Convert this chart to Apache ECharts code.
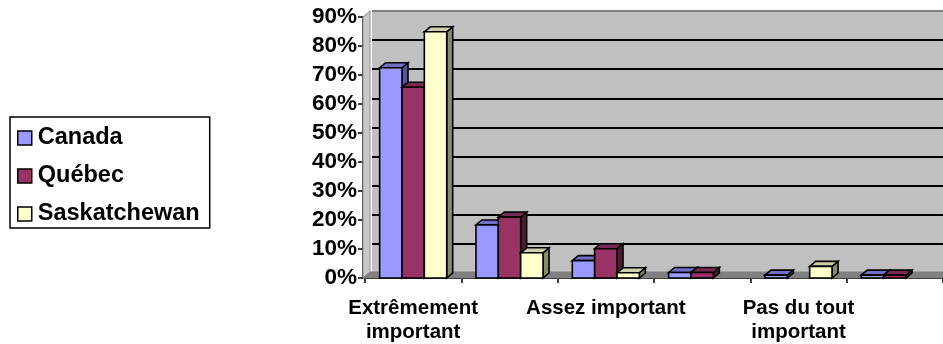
<!DOCTYPE html>
<html>
<head>
<meta charset="utf-8">
<script src="https://cdn.jsdelivr.net/npm/echarts@6/dist/echarts.min.js"></script>
<style>
  html, body { margin: 0; padding: 0; background: #fff; }
  #chart { width: 943px; height: 344px; }
</style>
</head>
<body>
<div id="chart"></div>
<script>
// Response categories (only every other label fits under the axis)
const categories = [
  'Extrêmement\nimportant',
  'Très important',
  'Assez important',
  'Peu important',
  'Pas du tout\nimportant',
  'NSP/NR'
];

// Share of respondents, in percent
const canada       = [72.5, 18.3, 6.0, 1.9, 1.0, 1.0];
const quebec       = [65.8, 21.0, 10.1, 1.9, 0, 1.0];
const saskatchewan = [84.9, 8.7, 1.8, 0, 4.0, 0];

const yTicks = { min: 0, max: 90, step: 10 };

const FONT = '"Liberation Sans", Arial, sans-serif';

// Face colours for each series: front, top, side
const palette = [
  { name: 'Canada',       front: '#9999ff', top: '#6f6fc4', side: '#55559a' },
  { name: 'Québec',       front: '#993366', top: '#782a52', side: '#4e1a34' },
  { name: 'Saskatchewan', front: '#ffffcc', top: '#cfcfae', side: '#8a8a6e' }
];

// Pseudo-3D depth of the bars and of the chart walls, in pixels
const BAR_DX = 6, BAR_DY = -5;
const WALL_DX = 7, WALL_DY = -6;

const chart = echarts.init(document.getElementById('chart'));

// Builds a renderer that draws one bar as front face + top + right side
function barRenderer(slot, colors) {
  return function (params, api) {
    const cat = api.value(0);
    const v = api.value(1);
    if (!v) return null;
    const base = api.coord([cat, 0]);
    const top = api.coord([cat, v]);
    const cw = api.size([1, 0])[0];
    const bw = cw * 0.232;
    const x0 = base[0] - 1.5 * bw + slot * bw;
    const x1 = x0 + bw;
    const ty = top[1], by = base[1];
    const stroke = { stroke: '#000', lineWidth: 1.6, lineJoin: 'miter' };
    return {
      type: 'group',
      children: [
        {
          type: 'polygon',
          shape: { points: [[x1, ty], [x1 + BAR_DX, ty + BAR_DY], [x1 + BAR_DX, by + BAR_DY], [x1, by]] },
          style: Object.assign({ fill: colors.side }, stroke)
        },
        {
          type: 'polygon',
          shape: { points: [[x0, ty], [x0 + BAR_DX, ty + BAR_DY], [x1 + BAR_DX, ty + BAR_DY], [x1, ty]] },
          style: Object.assign({ fill: colors.top }, stroke)
        },
        {
          type: 'rect',
          shape: { x: x0, y: ty, width: bw, height: by - ty },
          style: Object.assign({ fill: colors.front }, stroke)
        }
      ]
    };
  };
}

// Floor strip and left wall joining the front axes to the back wall
function wallRenderer(params, api) {
  const cs = params.coordSys;
  const left = cs.x - 2, bottom = cs.y + cs.height, topY = cs.y, right = cs.x + cs.width + 20;
  return {
    type: 'group',
    children: [
      {
        type: 'polygon',
        shape: { points: [[left, bottom], [left + WALL_DX, bottom + WALL_DY], [left + WALL_DX, topY + WALL_DY], [left, topY]] },
        style: { fill: '#c8c8c8', stroke: '#8c8c8c', lineWidth: 1 }
      },
      {
        type: 'polygon',
        shape: { points: [[left, bottom], [left + WALL_DX, bottom + WALL_DY], [right, bottom + WALL_DY], [right, bottom]] },
        style: { fill: '#808080', stroke: '#808080', lineWidth: 1 }
      }
    ]
  };
}

const seriesValues = [canada, quebec, saskatchewan];

const barSeries = palette.map((p, i) => ({
  name: p.name,
  type: 'custom',
  xAxisIndex: 0,
  yAxisIndex: 0,
  z: 3 + i,
  renderItem: barRenderer(i, p),
  itemStyle: { color: p.front, borderColor: '#000', borderWidth: 1.5 },
  encode: { x: 0, y: 1 },
  data: seriesValues[i].map((v, k) => [k, v])
}));

const backLineColors = [];
for (let v = yTicks.min; v <= yTicks.max; v += yTicks.step) {
  backLineColors.push(v === yTicks.min || v === yTicks.max ? '#808080' : '#000000');
}

const gridFront = { left: 365, right: -1, top: 17, bottom: 65 };

chart.setOption({
  animation: false,
  backgroundColor: '#ffffff',
  textStyle: { fontFamily: FONT },
  grid: [
    gridFront,
    {
      left: gridFront.left + WALL_DX,
      right: gridFront.right - WALL_DX,
      top: gridFront.top + WALL_DY,
      bottom: gridFront.bottom - WALL_DY,
      show: true,
      backgroundColor: '#c0c0c0',
      borderWidth: 0
    }
  ],
  legend: {
    data: palette.map(p => p.name),
    orient: 'vertical',
    left: 10,
    top: 117,
    padding: [9, 10, 2, 7],
    itemWidth: 14,
    itemHeight: 14,
    itemGap: 14,
    icon: 'rect',
    borderColor: '#000',
    borderWidth: 1.5,
    itemStyle: { borderColor: '#000', borderWidth: 1.5 },
    textStyle: { fontFamily: FONT, fontSize: 23.5, fontWeight: 'bold', color: '#000', lineHeight: 23, padding: [0, 0, 0, 1] }
  },
  xAxis: [
    {
      type: 'category',
      gridIndex: 0,
      data: categories,
      boundaryGap: true,
      axisLine: { lineStyle: { color: '#000', width: 2 } },
      axisTick: { show: true, interval: 0, length: 5, lineStyle: { color: '#000', width: 1.5 } },
      axisLabel: {
        interval: 1,
        margin: 18,
        color: '#000',
        fontFamily: FONT,
        fontSize: 20.5,
        fontWeight: 'bold',
        lineHeight: 24
      },
      splitLine: { show: false }
    },
    {
      type: 'category',
      gridIndex: 1,
      data: categories,
      show: false
    }
  ],
  yAxis: [
    {
      type: 'value',
      gridIndex: 0,
      min: yTicks.min,
      max: yTicks.max,
      interval: yTicks.step,
      offset: 2,
      axisLine: { show: true, lineStyle: { color: '#000', width: 1.5 } },
      axisTick: { show: true, length: 5, lineStyle: { color: '#000', width: 1.5 } },
      axisLabel: {
        formatter: '{value}%',
        margin: 6,
        color: '#000',
        fontFamily: FONT,
        fontSize: 22.5,
        fontWeight: 'bold',
        padding: [4, 0, 0, 0]
      },
      splitLine: { show: false }
    },
    {
      type: 'value',
      gridIndex: 1,
      min: yTicks.min,
      max: yTicks.max,
      interval: yTicks.step,
      axisLine: { show: false },
      axisTick: { show: false },
      axisLabel: { show: false },
      splitLine: { show: true, lineStyle: { color: backLineColors, width: 2 } }
    }
  ],
  series: [
    {
      name: 'walls',
      type: 'custom',
      xAxisIndex: 0,
      yAxisIndex: 0,
      z: 1,
      silent: true,
      renderItem: wallRenderer,
      data: [[0, 0]]
    }
  ].concat(barSeries)
});
</script>
</body>
</html>
